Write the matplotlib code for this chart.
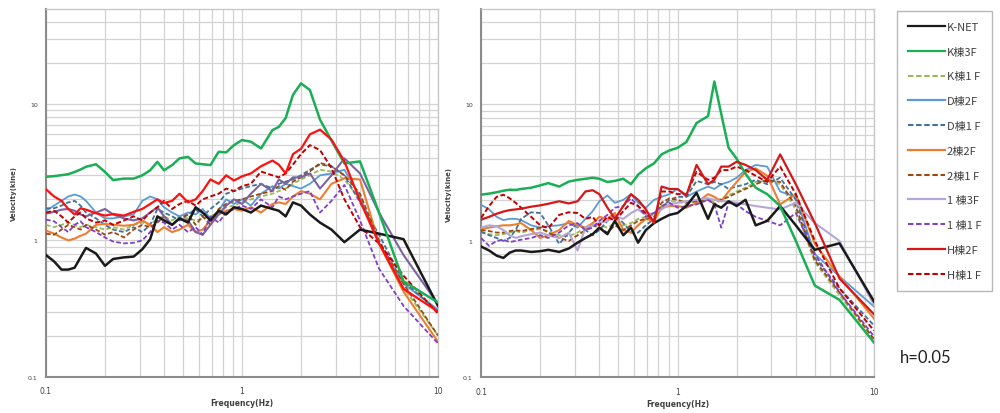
import matplotlib
matplotlib.use('Agg')
import matplotlib.pyplot as plt
from matplotlib.ticker import FixedLocator, NullFormatter
from matplotlib.lines import Line2D

# frequency points (Hz) shared by all spectra
freq = [0.1, 0.11, 0.12, 0.13, 0.14, 0.15, 0.16, 0.18, 0.2, 0.22,
        0.25, 0.28, 0.31, 0.34, 0.37, 0.4, 0.44, 0.48, 0.53, 0.58, 0.63, 0.69,
        0.76, 0.83, 0.91, 1.0, 1.11, 1.25, 1.43, 1.54, 1.67, 1.82,
        2.0, 2.22, 2.5, 2.86, 3.33, 4.0, 5.0, 6.67, 10]

# ---- left chart (kine)
left_knet = [0.78, 0.70, 0.61, 0.61, 0.63, 0.75, 0.88, 0.80, 0.65, 0.73,
             0.75, 0.76, 0.86, 1.02, 1.50, 1.40, 1.30, 1.45, 1.35, 1.75, 1.60, 1.40,
             1.65, 1.55, 1.75, 1.70, 1.60, 1.80, 1.70, 1.65, 1.50, 1.90,
             1.80, 1.55, 1.35, 1.20, 0.97, 1.20, 1.12, 1.02, 0.33]
left_k3f = [2.93, 2.96, 3.01, 3.06, 3.18, 3.31, 3.47, 3.62, 3.18, 2.77,
            2.84, 2.84, 3.00, 3.27, 3.77, 3.27, 3.57, 4.00, 4.10, 3.67, 3.62, 3.57,
            4.47, 4.42, 5.00, 5.45, 5.30, 4.73, 6.45, 6.80, 7.90, 11.7,
            14.2, 12.7, 7.7, 5.4, 3.67, 3.80, 1.60, 0.50, 0.35]
left_k1f = [1.30, 1.25, 1.30, 1.35, 1.30, 1.25, 1.30, 1.25, 1.20, 1.25,
            1.20, 1.30, 1.35, 1.30, 1.45, 1.50, 1.40, 1.50, 1.45, 1.40, 1.45, 1.50,
            1.60, 1.75, 1.80, 1.90, 2.00, 2.10, 2.20, 2.30, 2.40, 2.60,
            2.80, 3.00, 3.30, 3.20, 2.80, 2.00, 0.95, 0.45, 0.20]
left_d2f = [1.65, 1.80, 1.95, 2.10, 2.17, 2.10, 1.95, 1.60, 1.45, 1.45,
            1.50, 1.55, 1.95, 2.10, 2.00, 1.75, 1.60, 1.50, 1.60, 1.55, 1.70, 1.45,
            1.65, 2.00, 1.85, 2.00, 1.80, 2.20, 2.50, 2.40, 2.60, 2.50,
            2.40, 2.60, 3.00, 3.10, 3.30, 2.10, 0.95, 0.48, 0.31]
left_d1f = [1.72, 1.72, 1.80, 1.90, 1.95, 1.80, 1.60, 1.45, 1.30, 1.20,
            1.15, 1.25, 1.15, 1.30, 1.70, 1.60, 1.50, 1.40, 1.55, 1.70, 1.50, 1.70,
            1.90, 2.20, 2.30, 2.40, 2.50, 2.60, 2.40, 2.60, 2.70, 2.80,
            3.00, 3.30, 3.60, 3.50, 3.00, 1.90, 1.10, 0.50, 0.30]
left_22f = [1.18, 1.12, 1.05, 1.00, 1.03, 1.08, 1.12, 1.30, 1.32, 1.30,
            1.28, 1.30, 1.40, 1.30, 1.15, 1.25, 1.15, 1.20, 1.30, 1.15, 1.20, 1.40,
            1.55, 1.65, 1.70, 1.65, 1.75, 1.60, 1.85, 1.90, 1.85, 2.10,
            2.30, 2.20, 2.00, 2.60, 2.85, 2.80, 0.95, 0.42, 0.18]
left_21f = [1.12, 1.10, 1.20, 1.30, 1.25, 1.20, 1.30, 1.20, 1.10, 1.15,
            1.05, 1.20, 1.30, 1.25, 1.35, 1.50, 1.30, 1.45, 1.55, 1.30, 1.50, 1.30,
            1.70, 1.85, 1.95, 2.00, 2.10, 2.20, 2.30, 2.50, 2.35, 2.70,
            2.90, 3.20, 3.70, 3.50, 3.00, 2.20, 1.00, 0.48, 0.20]
left_13f = [1.57, 1.62, 1.68, 1.70, 1.65, 1.55, 1.50, 1.60, 1.70, 1.55,
            1.45, 1.40, 1.45, 1.60, 1.75, 1.50, 1.30, 1.45, 1.40, 1.15, 1.10, 1.30,
            1.55, 1.80, 2.00, 1.85, 2.20, 2.60, 2.30, 2.80, 2.60, 2.90,
            2.90, 3.10, 2.40, 3.00, 4.00, 3.10, 1.60, 0.78, 0.34]
left_11f = [1.42, 1.38, 1.25, 1.15, 1.30, 1.38, 1.25, 1.15, 1.05, 0.98,
            0.95, 0.96, 1.00, 1.15, 1.40, 1.35, 1.20, 1.30, 1.15, 1.25, 1.10, 1.50,
            1.35, 1.60, 1.70, 1.80, 1.70, 2.00, 1.75, 2.10, 2.00, 2.10,
            2.20, 2.30, 1.60, 1.95, 2.55, 1.40, 0.62, 0.33, 0.175]
left_h2f = [2.37, 2.10, 1.95, 1.70, 1.55, 1.72, 1.68, 1.58, 1.52, 1.56,
            1.52, 1.62, 1.70, 1.85, 2.00, 1.88, 1.95, 2.20, 1.90, 2.00, 2.30, 2.80,
            2.60, 3.00, 2.75, 2.95, 3.10, 3.50, 3.85, 3.60, 3.10, 4.30,
            4.70, 6.00, 6.50, 5.50, 3.80, 1.95, 0.95, 0.44, 0.30]
left_h1f = [1.60, 1.65, 1.50, 1.35, 1.50, 1.60, 1.45, 1.35, 1.40, 1.30,
            1.40, 1.50, 1.40, 1.60, 1.75, 1.95, 1.70, 1.85, 1.95, 1.80, 2.00, 2.10,
            2.20, 2.40, 2.30, 2.50, 2.60, 3.20, 3.00, 2.90, 3.10, 3.60,
            4.30, 5.00, 4.60, 3.40, 2.00, 1.25, 0.95, 0.55, 0.29]

# ---- right chart (kine)
right_knet = [0.91, 0.85, 0.78, 0.75, 0.82, 0.85, 0.85, 0.83, 0.84, 0.86,
              0.83, 0.88, 0.97, 1.05, 1.12, 1.25, 1.12, 1.40, 1.10, 1.25, 0.97, 1.20,
              1.35, 1.45, 1.55, 1.60, 1.80, 2.25, 1.45, 1.85, 1.75, 1.95,
              1.80, 2.00, 1.30, 1.40, 1.80, 1.30, 0.86, 0.96, 0.36]
right_k3f = [2.18, 2.22, 2.27, 2.33, 2.37, 2.36, 2.40, 2.45, 2.55, 2.65,
             2.50, 2.72, 2.80, 2.85, 2.90, 2.85, 2.70, 2.75, 2.85, 2.60, 3.05, 3.40,
             3.70, 4.30, 4.60, 4.80, 5.30, 7.30, 8.20, 14.7, 8.50, 4.80,
             4.00, 3.10, 2.45, 2.20, 1.80, 1.00, 0.47, 0.37, 0.18]
right_k1f = [1.15, 1.12, 1.10, 1.12, 1.15, 1.18, 1.15, 1.20, 1.22, 1.18,
             1.10, 1.08, 1.15, 1.25, 1.30, 1.30, 1.25, 1.35, 1.30, 1.35, 1.45, 1.50,
             1.55, 1.80, 1.95, 1.95, 1.85, 2.00, 2.05, 1.90, 2.05, 2.15,
             2.30, 2.45, 2.70, 2.75, 2.60, 1.70, 0.70, 0.40, 0.19]
right_d2f = [1.84, 1.70, 1.50, 1.42, 1.45, 1.45, 1.42, 1.30, 1.25, 1.28,
             1.30, 1.35, 1.25, 1.45, 1.65, 1.95, 2.15, 1.90, 2.00, 2.20, 1.90, 1.75,
             2.00, 2.10, 2.20, 2.40, 2.10, 2.30, 2.50, 2.40, 2.60, 2.70,
             2.90, 3.30, 3.60, 3.50, 2.30, 2.10, 0.80, 0.55, 0.33]
right_d1f = [1.17, 1.10, 1.05, 1.00, 1.05, 1.20, 1.45, 1.62, 1.60, 1.30,
             0.95, 1.15, 1.35, 1.20, 1.10, 1.20, 1.40, 1.55, 1.35, 1.15, 1.15, 1.30,
             1.45, 1.75, 2.00, 2.10, 2.10, 2.75, 2.60, 2.70, 2.60, 2.40,
             2.50, 2.60, 2.80, 2.60, 2.90, 2.00, 0.75, 0.45, 0.24]
right_22f = [1.22, 1.25, 1.28, 1.30, 1.30, 1.32, 1.35, 1.20, 1.05, 1.10,
             1.20, 1.40, 1.30, 1.25, 1.35, 1.50, 1.45, 1.60, 1.20, 1.15, 1.30, 1.45,
             1.40, 1.75, 1.80, 1.80, 1.75, 1.90, 2.20, 2.10, 1.95, 2.30,
             2.70, 3.20, 3.40, 3.00, 1.85, 2.20, 0.95, 0.55, 0.27]
right_21f = [1.20, 1.18, 1.15, 1.15, 1.18, 1.20, 1.18, 1.22, 1.25, 1.15,
             1.05, 1.00, 1.10, 1.20, 1.30, 1.25, 1.15, 1.30, 1.20, 1.30, 1.40, 1.45,
             1.50, 1.90, 2.05, 2.00, 1.90, 1.95, 2.00, 1.85, 2.00, 2.10,
             2.25, 2.40, 2.60, 2.80, 2.70, 1.80, 0.72, 0.42, 0.19]
right_13f = [1.25, 1.30, 1.28, 1.20, 1.10, 1.05, 1.08, 1.12, 1.15, 1.10,
             1.05, 1.15, 0.85, 1.25, 1.30, 1.35, 1.40, 1.50, 1.45, 1.60, 1.70, 1.55,
             1.60, 1.70, 1.85, 1.90, 1.95, 2.00, 2.05, 2.00, 1.95, 1.95,
             1.90, 1.85, 1.80, 1.75, 1.70, 1.90, 1.35, 1.00, 0.34]
right_11f = [1.05, 0.92, 1.00, 1.02, 0.98, 1.00, 1.02, 1.05, 1.10, 1.05,
             1.15, 1.30, 1.35, 1.20, 1.25, 1.40, 1.55, 1.75, 1.80, 2.05, 1.80, 1.50,
             1.60, 1.80, 1.90, 1.75, 1.80, 1.85, 2.00, 1.85, 1.25, 1.90,
             1.85, 1.65, 1.50, 1.40, 1.30, 1.60, 0.80, 0.42, 0.20]
right_h2f = [1.43, 1.50, 1.58, 1.64, 1.68, 1.70, 1.72, 1.78, 1.82, 1.87,
             1.95, 1.88, 1.95, 2.30, 2.35, 2.20, 1.75, 1.45, 1.80, 2.20, 2.00, 1.70,
             1.35, 2.50, 2.40, 2.40, 2.15, 3.60, 2.60, 2.80, 3.50, 3.50,
             3.80, 3.60, 3.30, 2.80, 4.30, 2.60, 1.35, 0.53, 0.29]
right_h1f = [1.47, 1.80, 2.10, 2.18, 2.05, 1.90, 1.75, 1.50, 1.30, 1.24,
             1.55, 1.62, 1.60, 1.45, 1.50, 1.30, 1.50, 1.40, 1.65, 1.90, 1.80, 1.60,
             1.40, 2.30, 2.30, 2.20, 2.20, 3.20, 2.80, 2.90, 3.30, 3.30,
             3.50, 3.30, 3.00, 2.70, 3.50, 2.20, 1.00, 0.45, 0.22]

names = ['K-NET', 'K棟3F', 'K棟1 F', 'D棟2F', 'D棟1 F', '2棟2F', '2棟1 F',
         '1 棟3F', '1 棟1 F', 'H棟2F', 'H棟1 F']
left_series = [left_knet, left_k3f, left_k1f, left_d2f, left_d1f, left_22f,
               left_21f, left_13f, left_11f, left_h2f, left_h1f]
right_series = [right_knet, right_k3f, right_k1f, right_d2f, right_d1f, right_22f,
                right_21f, right_13f, right_11f, right_h2f, right_h1f]

colors_left = ['#1a1a1a', '#1aaf54', '#9bbb59', '#5b9bd5', '#41719c', '#ed7d31',
               '#9e480e', '#7b62a3', '#8040c8', '#ff1010', '#c00000']
colors_right = list(colors_left)
colors_right[7] = '#b4a7d6'
colors_right[9] = '#d41818'
dashed = [False, False, True, False, True, False, True, False, True, False, True]
widths = [1.8, 1.8, 1.3, 1.3, 1.3, 1.5, 1.3, 1.5, 1.3, 1.6, 1.4]

fig = plt.figure(figsize=(10, 4.14), dpi=100)
ax1 = fig.add_axes([0.046, 0.088, 0.392, 0.888])
ax2 = fig.add_axes([0.481, 0.086, 0.393, 0.890])

grid_c = '#d3d3d3'
for ax, series, cols in [(ax1, left_series, colors_left), (ax2, right_series, colors_right)]:
    ax.set_xscale('log')
    ax.set_yscale('log')
    for i in range(len(names)):
        ls = (0, (2.6, 1.3)) if dashed[i] else '-'
        ax.plot(freq, series[i], color=cols[i], lw=widths[i], linestyle=ls,
                label=names[i], zorder=3 + (1 if i in (0, 1, 9) else 0))
    ax.set_xlim(0.1, 10)
    ax.set_ylim(0.1, 50)
    ax.xaxis.set_major_locator(FixedLocator([0.1, 1, 10]))
    ax.yaxis.set_major_locator(FixedLocator([0.1, 1, 10]))
    ax.set_xticklabels(['0.1', '1', '10'])
    ax.set_yticklabels(['0.1', '1', '10'])
    ax.xaxis.set_minor_locator(FixedLocator([0.2, 0.3, 0.4, 0.5, 0.6, 0.7, 0.8, 0.9,
                                             2, 3, 4, 5, 6, 7, 8, 9]))
    ax.yaxis.set_minor_locator(FixedLocator([0.2, 0.3, 0.4, 0.5, 0.6, 0.7, 0.8, 0.9,
                                             2, 3, 4, 5, 6, 7, 8, 9, 20, 30, 40]))
    ax.xaxis.set_minor_formatter(NullFormatter())
    ax.yaxis.set_minor_formatter(NullFormatter())
    ax.grid(True, which='both', color=grid_c, lw=0.9)
    ax.set_axisbelow(True)
    ax.tick_params(which='both', length=0)
    ax.tick_params(axis='x', labelsize=5.5, pad=7, labelcolor='#404040')
    ax.tick_params(axis='y', labelsize=4.5, pad=6, labelcolor='#404040')
    for s in ['top', 'right']:
        ax.spines[s].set_color('#c8c8c8')
        ax.spines[s].set_linewidth(1.0)
    for s in ['left', 'bottom']:
        ax.spines[s].set_color('#8c8c8c')
        ax.spines[s].set_linewidth(1.5)
    ax.set_xlabel('Frequency(Hz)', fontsize=5.5, fontweight='bold', color='#404040', labelpad=2)
    ax.set_ylabel('Velocity(kine)', fontsize=5, fontweight='bold', color='#404040', labelpad=8)

handles = [Line2D([], [], color=colors_right[i], lw=1.6 if not dashed[i] else 1.5,
                  linestyle=(0, (2.6, 1.3)) if dashed[i] else '-') for i in range(len(names))]
leg = fig.legend(handles, names, loc='upper left', bbox_to_anchor=(0.891, 0.985),
                 prop={'family': ['Noto Sans CJK JP', 'DejaVu Sans'], 'size': 8},
                 handlelength=3.4, handletextpad=0.1, labelspacing=1.33,
                 borderpad=1.0, frameon=True, fancybox=False)
leg.get_frame().set_edgecolor('#a6a6a6')
leg.get_frame().set_linewidth(1.0)
for t in leg.get_texts():
    t.set_color('#404040')

fig.text(0.900, 0.135, 'h=0.05', fontsize=12, family='Lato', ha='left', va='center', color='#202020')

fig.savefig('out.png', dpi=100)
